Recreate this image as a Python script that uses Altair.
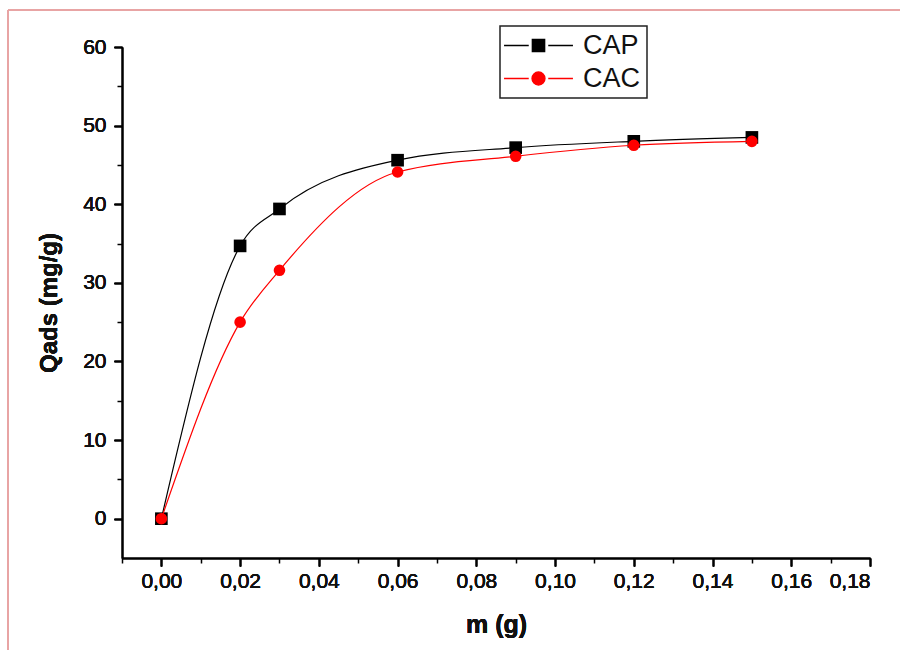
import altair as alt
import pandas as pd

# ---- data ----
m_values = [0.00, 0.02, 0.03, 0.06, 0.09, 0.12, 0.15]
cap_values = [0.0, 34.7, 39.4, 45.6, 47.2, 48.0, 48.5]
cac_values = [0.0, 25.0, 31.6, 44.1, 46.1, 47.5, 48.0]
series_names = ["CAP", "CAC"]
series_colors = ["#000000", "#ff0000"]

x_major = [0.00, 0.02, 0.04, 0.06, 0.08, 0.10, 0.12, 0.14, 0.16, 0.18]
x_minor = [-0.01, 0.01, 0.03, 0.05, 0.07, 0.09, 0.11, 0.13, 0.15, 0.17]
y_major = [0, 10, 20, 30, 40, 50, 60]
y_minor = [5, 15, 25, 35, 45, 55]

rows = []
for name, vals in zip(series_names, [cap_values, cac_values]):
    for mv, qv in zip(m_values, vals):
        rows.append({"m": mv, "q": qv, "series": name})
df = pd.DataFrame(rows)

FONT = "Liberation Sans"
xs = alt.Scale(domain=[-0.01, 0.18], nice=False, zero=False)
ys = alt.Scale(domain=[-5, 60], nice=False, zero=False)

x_axis = alt.Axis(values=x_major, labelExpr="replace(format(datum.value, '.2f'), '.', ',')",
                  title="m (g)", orient="bottom", grid=False, tickSize=8, tickWidth=1.5,
                  tickColor="#000", domainColor="#000", domainWidth=1.5,
                  labelFont=FONT, labelFontSize=21, labelColor="#111", labelPadding=4,
                  titleFont=FONT, titleFontSize=25, titleFontWeight="bold", titleColor="#111",
                  titlePadding=21)
y_axis = alt.Axis(values=y_major, title="Qads (mg/g)", orient="left", grid=False,
                  tickSize=8, tickWidth=1.5, tickColor="#000", domainColor="#000", domainWidth=1.5,
                  labelFont=FONT, labelFontSize=21, labelColor="#111", labelPadding=8,
                  titleFont=FONT, titleFontSize=24, titleFontWeight="bold", titleColor="#111",
                  titlePadding=21)

base = alt.Chart(df)

def series_layers(name, color, shape, size):
    sub = base.transform_filter(alt.datum.series == name)
    line = sub.mark_line(color=color, strokeWidth=1.2, interpolate="monotone").encode(
        x=alt.X("m:Q", scale=xs, axis=x_axis),
        y=alt.Y("q:Q", scale=ys, axis=y_axis),
    )
    pts = sub.mark_point(shape=shape, filled=True, color=color, size=size, opacity=1).encode(
        x=alt.X("m:Q", scale=xs, axis=x_axis),
        y=alt.Y("q:Q", scale=ys, axis=y_axis),
    )
    return line, pts

cap_line, cap_pts = series_layers("CAP", "#000000", "square", 160)
cac_line, cac_pts = series_layers("CAC", "#ff0000", "circle", 135)

cap_sym = "M-5.3,0H-1.5M1.5,0H5.3M-0.95,-0.95H0.95V0.95H-0.95Z"
cac_sym = "M-5.3,0H-1.5M1.5,0H5.3M1,0A1,1,0,1,1,-1,0A1,1,0,1,1,1,0Z"

leg = alt.Legend(title=None, orient="none", legendX=378, legendY=-21,
                 symbolSize=169, symbolOffset=19, labelOffset=31, symbolOpacity=1,
                 symbolStrokeWidth=1.3,
                 labelFont=FONT, labelFontSize=27, labelColor="#111",
                 padding=6, rowPadding=5, strokeColor="#222")
color_scale = alt.Scale(domain=series_names, range=series_colors)

legend_layer = base.mark_point(filled=True, opacity=0).encode(
    x=alt.X("m:Q", scale=xs, axis=x_axis),
    y=alt.Y("q:Q", scale=ys, axis=y_axis),
    fill=alt.Fill("series:N", scale=color_scale, legend=leg),
    stroke=alt.Stroke("series:N", scale=color_scale, legend=leg),
    shape=alt.Shape("series:N", scale=alt.Scale(domain=series_names, range=[cap_sym, cac_sym]),
                    legend=leg),
)

minor_layer = base.mark_point(opacity=0).encode(
    x=alt.X("m:Q", scale=xs, axis=alt.Axis(values=x_minor, labels=False, domain=False, title=None,
                                           orient="bottom", grid=False, tickSize=5, tickWidth=1.5,
                                           tickColor="#000")),
    y=alt.Y("q:Q", scale=ys, axis=alt.Axis(values=y_minor, labels=False, domain=False, title=None,
                                           orient="left", grid=False, tickSize=5, tickWidth=1.5,
                                           tickColor="#000")),
)

frame_color = "#e8a4a4"
frame_top = alt.Chart(df).mark_rule(color=frame_color, strokeWidth=2).encode(
    x=alt.value(-114), x2=alt.value(800), y=alt.value(-37))
frame_left = alt.Chart(df).mark_rule(color=frame_color, strokeWidth=2).encode(
    x=alt.value(-114), y=alt.value(-37), y2=alt.value(620))

chart = alt.layer(
    minor_layer, cap_line, cap_pts, cac_line, cac_pts, legend_layer, frame_top, frame_left
).resolve_axis(x="independent", y="independent").properties(
    width=748, height=511,
    autosize=alt.AutoSizeParams(type="none"),
    padding={"left": 122, "top": 47, "right": 30, "bottom": 92},
    background="white",
).configure_view(stroke=None).configure_legend(strokeWidth=1.5)

chart.save("out.html", embed_options={"renderer": "svg", "actions": False})
